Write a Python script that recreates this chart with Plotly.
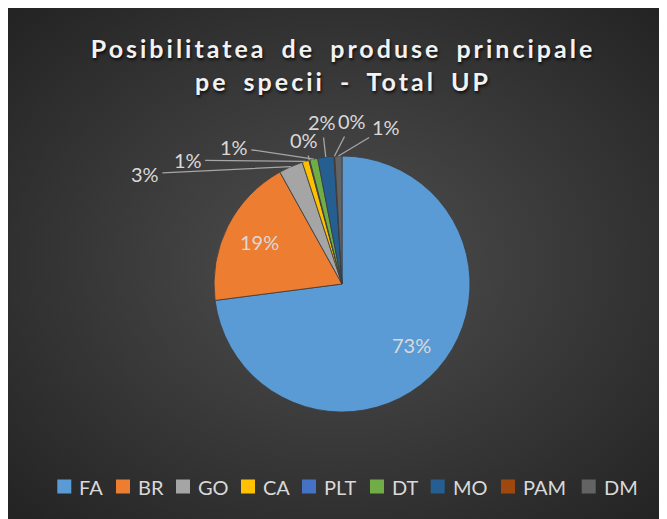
import base64
import math
import plotly.graph_objects as go

# ---------------- data ----------------
categories = ["FA", "BR", "GO", "CA", "PLT", "DT", "MO", "PAM", "DM"]
values = [73.0, 19.0, 3.05, 0.85, 0.12, 1.0, 2.05, 0.1, 0.9]
colors = ["#5B9BD5", "#ED7D31", "#A5A5A5", "#FFC000", "#4472C4",
          "#70AD47", "#255E91", "#9E480E", "#636363"]
title_lines = ["Posibilitatea de produse principale", "pe specii - Total UP"]

# ---------------- layout ----------------
# the page body keeps its default 8px margin, which gives the white frame
OFF = 8
W, H = 667 - OFF, 519 - OFF


def px_x(x):  # screen x -> paper
    return (x - OFF) / W


def px_y(y):  # screen y -> paper
    return 1 - (y - OFF) / H


cx_px, cy_px, r_px = 342, 284, 128
dom_x = [px_x(cx_px - r_px), px_x(cx_px + r_px)]
dom_y = [px_y(cy_px + r_px), px_y(cy_px - r_px)]

inside_cats = {"FA", "BR"}
inside_radius = 0.72
# label offsets (screen px) from the slice's outer edge for the small slices
outside_offsets = {
    "GO": (-146, 7),
    "CA": (-118, -1),
    "PLT": (-5, -20),
    "DT": (-80, -12),
    "MO": (-4, -35),
    "PAM": (18, -35),
    "DM": (48, -29),
}
# custom legend layout (screen px): left edge of each colour square
legend_square_x = [57.3, 116, 176, 241, 302, 370, 430.7, 501, 581.7]
legend_square_size = 14
legend_center_y = 486.5
legend_text_gap = 20

label_font = dict(family="Lato, sans-serif", size=20, color="#d9d9d9")
legend_font = dict(family="Lato, sans-serif", size=20, color="#d9d9d9")

# background radial gradient
svg = (
    "<svg xmlns='http://www.w3.org/2000/svg' width='660' height='511'>"
    "<defs><radialGradient id='g' cx='50%' cy='50%' r='72%'>"
    "<stop offset='0' stop-color='#4f4f4f'/>"
    "<stop offset='1' stop-color='#222222'/>"
    "</radialGradient></defs>"
    "<rect width='100%' height='100%' fill='url(#g)'/></svg>"
)
bg_src = "data:image/svg+xml;base64," + base64.b64encode(svg.encode()).decode()

fig = go.Figure()
fig.add_trace(go.Pie(
    labels=categories,
    values=values,
    sort=False,
    direction="clockwise",
    rotation=0,
    textinfo="none",
    showlegend=False,
    marker=dict(colors=colors, line=dict(color="#3c3c3c", width=0.8)),
    domain=dict(x=dom_x, y=dom_y),
    hovertemplate="%{label}: %{percent}<extra></extra>",
))

# percentage labels computed from the data and the pie geometry
total = sum(values)
annotations = []
shapes = []
cum = 0.0
for cat, v in zip(categories, values):
    mid = (cum + v / 2) / total * 2 * math.pi
    cum += v
    pct = f"{v / total * 100:.0f}%"
    if cat in inside_cats:
        x = cx_px + inside_radius * r_px * math.sin(mid)
        y = cy_px - inside_radius * r_px * math.cos(mid)
        annotations.append(dict(
            x=px_x(x), y=px_y(y), xref="paper", yref="paper",
            text=pct, showarrow=False, font=label_font,
            xanchor="center", yanchor="middle"))
    else:
        x = cx_px + r_px * math.sin(mid)
        y = cy_px - r_px * math.cos(mid)
        ax, ay = outside_offsets[cat]
        annotations.append(dict(
            x=px_x(x), y=px_y(y), xref="paper", yref="paper",
            text=pct, showarrow=True, ax=ax, ay=ay,
            arrowhead=0, arrowwidth=1.3, arrowcolor="#a6a6a6",
            standoff=0, startstandoff=2, font=label_font))

# legend: colour squares + category names
half = legend_square_size / 2
for cat, col, sx in zip(categories, colors, legend_square_x):
    shapes.append(dict(
        type="rect", xref="paper", yref="paper",
        x0=px_x(sx), x1=px_x(sx + legend_square_size),
        y0=px_y(legend_center_y + half), y1=px_y(legend_center_y - half),
        fillcolor=col, line=dict(width=0)))
    annotations.append(dict(
        x=px_x(sx + legend_text_gap), y=px_y(legend_center_y),
        xref="paper", yref="paper", text=cat, showarrow=False,
        xanchor="left", yanchor="middle", font=legend_font))

title_html = "<br>".join(
    f"<span style='letter-spacing:3px;word-spacing:6px'>{t}</span>"
    for t in title_lines)

fig.update_layout(
    width=W, height=H,
    margin=dict(l=0, r=0, t=0, b=0),
    paper_bgcolor="#2a2a2a",
    showlegend=False,
    images=[dict(
        source=bg_src, xref="paper", yref="paper",
        x=0, y=1, sizex=1, sizey=1,
        xanchor="left", yanchor="top", sizing="stretch", layer="below")],
    title=dict(
        text=title_html,
        x=px_x(343), xanchor="center", xref="paper",
        y=px_y(58), yanchor="middle", yref="paper",
        font=dict(family="Lato, sans-serif", size=25, color="#f2f2f2",
                  weight="bold", shadow="1px 2px 3px rgba(0,0,0,0.75)"),
    ),
    annotations=annotations,
    shapes=shapes,
)

fig.write_html("out.html")
